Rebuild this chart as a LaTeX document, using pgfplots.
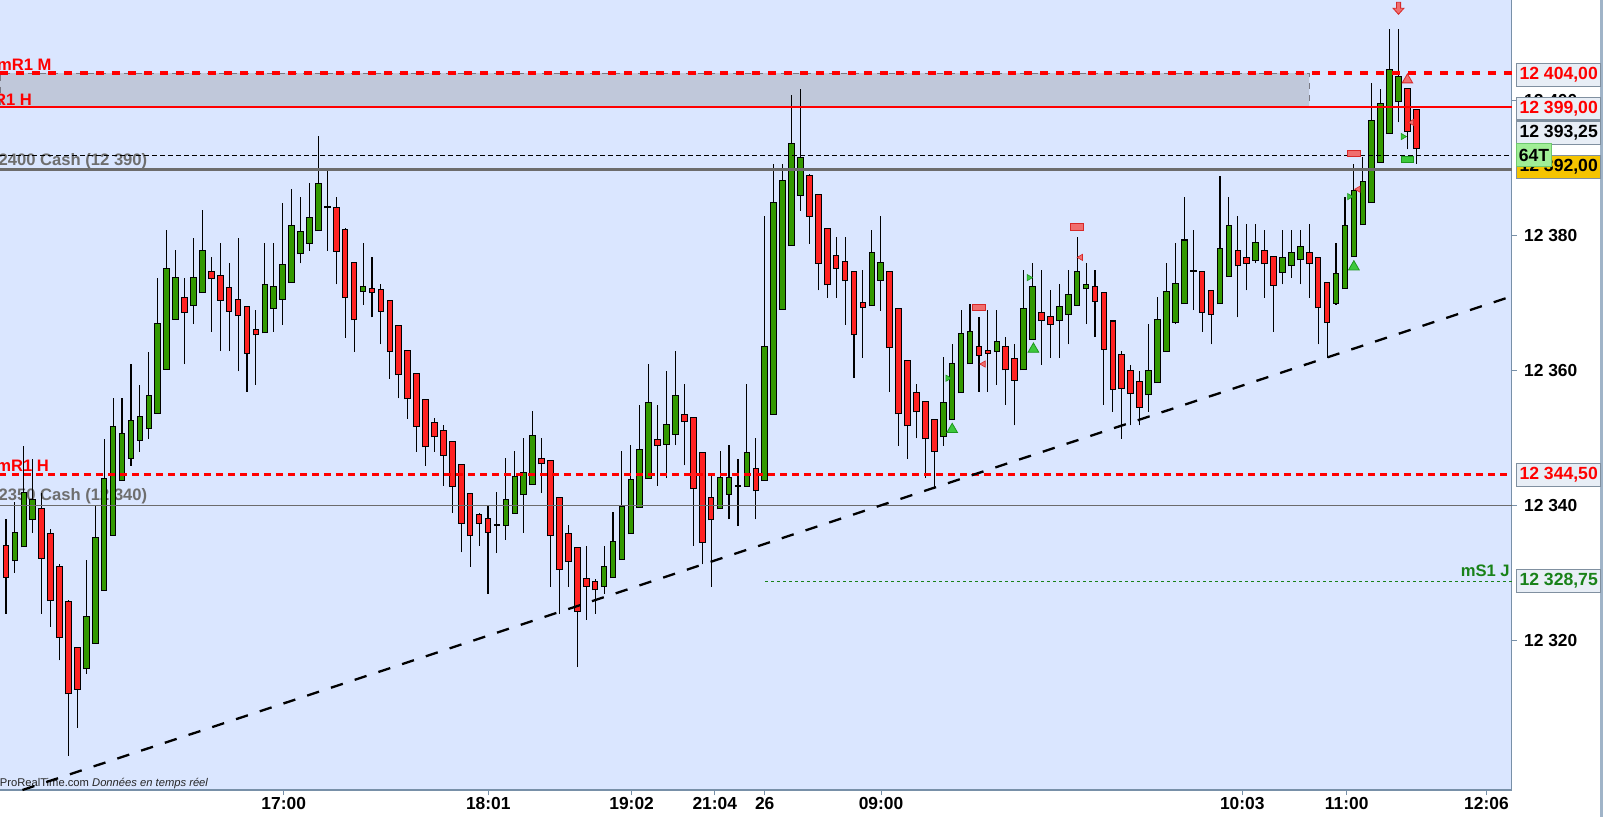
\documentclass[border=0pt]{standalone}
\usepackage{fontspec}
\setmainfont{Liberation Sans}
\usepackage{pgfplots}
\pgfplotsset{compat=1.18}
\usepackage{pgfplotstable}

\definecolor{plotbg}{RGB}{218,230,255}
\definecolor{shade}{RGB}{192,200,218}
\definecolor{shadeline}{RGB}{120,120,130}
\definecolor{cgreen}{RGB}{51,153,0}
\definecolor{cred}{RGB}{255,34,34}
\definecolor{labred}{RGB}{255,0,0}
\definecolor{labgrey}{RGB}{110,110,110}
\definecolor{labgreen}{RGB}{25,130,25}
\definecolor{axisline}{RGB}{120,144,168}
\definecolor{stripc}{RGB}{160,180,200}
\definecolor{boxfill}{RGB}{232,238,246}
\definecolor{boxline}{RGB}{128,144,160}
\definecolor{yellowbox}{RGB}{245,196,0}
\definecolor{box64}{RGB}{160,238,150}
\definecolor{box64line}{RGB}{110,200,110}
\definecolor{mkred}{RGB}{240,110,110}
\definecolor{mkreddark}{RGB}{215,40,40}
\definecolor{mkgreen}{RGB}{60,200,60}
\definecolor{mkgreendark}{RGB}{30,150,30}
\definecolor{greyline}{RGB}{108,108,108}

\newcommand{\lf}{\fontsize{8.3bp}{9bp}\selectfont\bfseries}
\newcommand{\tf}{\fontsize{8.7bp}{10bp}\selectfont\bfseries}

\pgfdeclareplotmark{darrow}{%
  \pgfpathmoveto{\pgfqpoint{-0.35\pgfplotmarksize}{\pgfplotmarksize}}%
  \pgfpathlineto{\pgfqpoint{0.35\pgfplotmarksize}{\pgfplotmarksize}}%
  \pgfpathlineto{\pgfqpoint{0.35\pgfplotmarksize}{0pt}}%
  \pgfpathlineto{\pgfqpoint{0.9\pgfplotmarksize}{0pt}}%
  \pgfpathlineto{\pgfqpoint{0pt}{-\pgfplotmarksize}}%
  \pgfpathlineto{\pgfqpoint{-0.9\pgfplotmarksize}{0pt}}%
  \pgfpathlineto{\pgfqpoint{-0.35\pgfplotmarksize}{0pt}}%
  \pgfpathclose
  \pgfusepathqfillstroke}

\pgfplotstableread{
i o h l c
-1 12328.5 12340.0 12328.0 12339.5
1 12331.8 12340.5 12330.0 12335.9
2 12333.9 12348.8 12333.9 12341.8
3 12337.9 12346.9 12335.9 12340.8
9 12315.8 12331.9 12315.0 12323.4
10 12319.6 12339.8 12319.6 12335.1
11 12327.4 12349.8 12327.4 12343.9
12 12335.6 12355.8 12335.6 12351.6
13 12343.7 12355.8 12343.7 12350.6
14 12347.0 12360.9 12345.8 12352.4
15 12349.7 12357.8 12347.9 12353.1
16 12351.4 12362.7 12349.8 12356.1
17 12353.7 12373.7 12353.7 12366.8
18 12360.2 12380.7 12360.2 12375.0
19 12367.6 12377.8 12367.6 12373.7
21 12369.6 12379.6 12366.8 12373.6
22 12371.5 12383.7 12371.5 12377.7
29 12365.6 12378.8 12365.6 12372.6
30 12369.2 12378.8 12365.7 12372.3
31 12370.6 12384.7 12366.7 12375.5
32 12373.1 12386.8 12373.1 12381.4
33 12377.3 12385.7 12375.8 12380.5
34 12378.9 12387.7 12377.7 12382.5
35 12380.7 12394.7 12380.7 12387.5
36 12384.1 12389.5 12377.7 12384.1
40 12371.7 12378.8 12369.7 12372.3
55 12337.1 12341.9 12332.9 12337.1
56 12337.1 12347.0 12334.9 12340.7
57 12338.9 12348.0 12338.9 12344.1
58 12341.6 12349.9 12335.9 12344.7
59 12343.1 12353.9 12343.1 12350.3
67 12328.0 12334.0 12326.9 12330.8
68 12329.3 12339.0 12329.3 12334.5
69 12332.0 12348.0 12332.0 12339.7
70 12335.8 12348.9 12335.8 12343.7
71 12339.7 12354.9 12339.7 12348.1
72 12344.0 12360.9 12344.0 12355.1
74 12349.1 12359.8 12344.0 12351.8
75 12350.5 12362.8 12348.9 12356.1
80 12339.5 12348.0 12339.5 12344.0
81 12341.7 12348.9 12337.9 12344.0
82 12342.9 12346.9 12336.9 12342.9
83 12342.9 12357.9 12342.9 12347.7
85 12343.7 12382.8 12343.7 12363.4
86 12353.5 12390.6 12353.5 12384.7
87 12369.1 12390.6 12369.1 12388.0
88 12378.5 12400.8 12378.5 12393.5
89 12386.0 12401.6 12383.6 12391.4
97 12369.6 12380.7 12369.6 12377.3
98 12373.4 12382.8 12368.8 12375.8
105 12350.2 12362.0 12348.8 12355.1
106 12352.7 12363.8 12352.7 12360.9
107 12356.7 12368.9 12356.7 12365.3
108 12361.0 12369.8 12361.0 12365.7
111 12362.8 12368.9 12357.8 12364.1
114 12360.1 12374.8 12360.1 12369.0
115 12364.6 12375.8 12364.6 12372.3
118 12367.4 12372.7 12361.8 12369.3
119 12368.3 12374.8 12363.8 12371.1
120 12369.7 12379.7 12369.7 12374.5
121 12372.1 12375.8 12366.8 12372.6
128 12356.4 12366.8 12353.8 12359.8
129 12358.2 12370.9 12358.2 12367.4
130 12362.8 12375.8 12362.8 12371.5
131 12367.1 12378.8 12366.8 12372.7
132 12369.9 12385.7 12369.9 12379.2
133 12374.7 12380.7 12368.9 12374.7
136 12369.9 12388.8 12369.9 12378.0
137 12374.0 12385.7 12374.0 12381.4
140 12376.3 12381.7 12375.8 12378.9
143 12374.6 12380.7 12372.7 12376.6
144 12375.5 12380.7 12373.7 12377.3
145 12376.4 12380.7 12372.7 12378.2
149 12370.0 12378.8 12369.7 12374.3
150 12372.1 12385.7 12372.1 12381.4
151 12376.9 12390.6 12376.9 12386.5
152 12381.6 12391.6 12381.6 12387.9
153 12384.9 12402.6 12384.9 12396.9
154 12390.8 12401.6 12390.8 12399.4
155 12395.1 12410.6 12395.1 12404.4
156 12399.8 12410.6 12396.7 12403.4
}\greenT

\pgfplotstableread{
i o h l c
0 12334.0 12337.9 12323.9 12329.4
4 12339.4 12341.8 12323.9 12332.2
5 12335.7 12336.5 12322.0 12325.9
6 12330.8 12331.3 12317.0 12320.5
7 12325.6 12326.0 12302.9 12312.1
8 12318.8 12319.0 12307.0 12312.8
20 12370.7 12373.7 12360.9 12368.6
23 12374.6 12376.7 12365.7 12373.6
24 12374.0 12378.9 12362.8 12370.4
25 12372.2 12375.9 12362.8 12368.8
26 12370.4 12379.6 12359.8 12368.2
27 12369.4 12369.5 12356.8 12362.6
28 12366.0 12368.9 12357.8 12365.3
37 12384.0 12385.7 12372.7 12377.7
38 12380.8 12381.0 12364.8 12370.8
39 12375.8 12376.0 12362.7 12367.5
41 12372.0 12376.8 12367.8 12371.5
42 12371.8 12372.8 12363.8 12368.8
43 12370.3 12370.3 12358.7 12362.8
44 12366.5 12366.5 12355.8 12359.4
45 12362.9 12362.9 12352.8 12355.8
46 12359.4 12359.4 12347.9 12351.7
47 12355.5 12355.5 12345.8 12348.7
48 12352.1 12352.9 12347.9 12350.2
49 12351.0 12351.8 12342.9 12347.4
50 12349.3 12349.3 12338.9 12342.9
51 12346.0 12346.0 12333.0 12337.4
52 12341.7 12341.7 12330.9 12335.5
53 12338.6 12338.9 12334.0 12337.4
54 12338.0 12339.8 12326.9 12336.0
60 12346.8 12349.9 12341.8 12346.2
61 12346.5 12346.5 12327.9 12335.5
62 12341.0 12341.0 12323.9 12330.5
63 12335.7 12337.0 12327.9 12331.7
64 12333.7 12333.7 12316.0 12324.3
65 12329.0 12334.0 12323.0 12328.0
66 12328.6 12329.0 12323.9 12327.5
73 12349.6 12354.9 12342.9 12348.9
76 12353.3 12357.9 12345.9 12352.4
77 12352.9 12353.0 12334.0 12342.5
78 12347.7 12347.7 12331.2 12334.5
79 12341.0 12344.8 12327.9 12337.9
84 12345.3 12349.9 12337.9 12342.2
90 12388.7 12389.0 12378.7 12382.9
91 12385.9 12386.0 12371.8 12375.9
92 12380.9 12381.0 12370.7 12372.7
93 12376.9 12379.7 12370.7 12375.1
94 12376.0 12379.7 12366.7 12373.3
95 12374.6 12374.6 12358.8 12365.3
96 12369.9 12374.8 12361.8 12369.3
99 12374.6 12374.6 12356.8 12363.4
100 12369.0 12369.0 12348.8 12353.6
101 12361.3 12361.3 12346.9 12351.8
102 12356.6 12357.9 12349.9 12353.9
103 12355.2 12355.2 12344.0 12349.9
104 12352.6 12352.6 12342.5 12348.0
109 12363.4 12367.9 12356.8 12362.3
110 12362.9 12368.9 12356.8 12362.6
112 12363.4 12364.9 12354.9 12360.1
113 12361.7 12363.8 12351.8 12358.6
116 12368.4 12374.8 12360.8 12367.4
117 12367.8 12371.8 12361.8 12366.8
122 12372.3 12374.8 12364.9 12370.3
123 12371.4 12371.4 12354.9 12363.1
124 12367.2 12367.2 12353.8 12357.2
125 12362.2 12362.8 12349.8 12357.3
126 12359.8 12360.8 12351.8 12356.6
127 12358.2 12359.8 12351.8 12354.6
134 12374.6 12374.6 12365.7 12368.6
135 12371.7 12371.7 12363.8 12368.3
138 12377.7 12382.8 12367.8 12375.5
139 12376.6 12381.7 12371.8 12375.9
141 12377.6 12380.7 12370.7 12375.8
142 12376.7 12376.7 12365.7 12372.6
146 12377.3 12381.7 12370.7 12375.8
147 12376.6 12376.6 12363.8 12369.3
148 12372.9 12372.9 12361.8 12367.1
157 12401.6 12401.6 12392.7 12395.4
158 12398.5 12398.5 12390.6 12392.9
}\redT

\tikzset{rbox/.style={anchor=west, draw=boxline, line width=0.6bp, fill=boxfill,
  minimum width=42bp, minimum height=11.4bp, inner sep=0pt,
  font=\fontsize{8.8bp}{10bp}\selectfont\bfseries}}

\begin{document}
\begin{tikzpicture}
\useasboundingbox (0,0) rectangle (801.5bp,-408.5bp);
\fill[white] (0,0) rectangle (801.5bp,-408.5bp);
\begin{axis}[
  at={(0,0)}, anchor=north west,
  scale only axis, width=755.75bp, height=395bp,
  xmin=-0.672, xmax=168.66, ymin=12297.79, ymax=12414.83,
  axis x line*=bottom, axis y line*=right,
  axis line style={draw=axisline, line width=0.6bp},
  axis background/.style={fill=plotbg},
  xtick={31.11,54.03,70.09,79.4,85.0,98.03,138.5,150.2,165.85},
  xticklabels={17:00,18:01,19:02,21:04,26,09:00,10:03,11:00,12:06},
  ytick={12320,12340,12360,12380,12400},
  yticklabels={12 320,12 340,12 360,12 380,12 400},
  tick align=outside, major tick length=2.5bp,
  tick style={draw=axisline, line width=0.5bp},
  tick label style={font=\tf, inner sep=0pt},
  xticklabel style={anchor=north, yshift=-1.2bp},
  yticklabel style={anchor=west, xshift=3.6bp},
  clip=false,
]
% shaded zone
\addplot[draw=shadeline, dashed, line width=0.4bp, fill=shade]
  coordinates {(-0.672,12399) (146.0,12399) (146.0,12404) (-0.672,12404) (-0.672,12399)};

% left labels (behind candles)
\node[anchor=base east, inner sep=0pt, text=labred, font=\lf] at (axis cs:5.15,12404.36) {mR1 M};
\node[anchor=base east, inner sep=0pt, text=labred, font=\lf] at (axis cs:2.95,12399.27) {R1 H};
\node[anchor=base east, inner sep=0pt, text=labgrey, font=\lf] at (axis cs:15.87,12390.38) {12400 Cash (12 390)};
\node[anchor=base east, inner sep=0pt, text=labred, font=\lf] at (axis cs:4.85,12344.98) {mR1 H};
\node[anchor=base east, inner sep=0pt, text=labgrey, font=\lf] at (axis cs:15.87,12340.62) {12350 Cash (12 340)};
\node[anchor=base east, inner sep=0pt, text=black!85, font=\fontsize{5.6bp}{6bp}\selectfont] at (axis cs:22.7,12298.3) {© ProRealTime.com \textit{Données en temps réel}};
\node[anchor=base east, inner sep=0pt, text=labgreen, font=\lf] at (axis cs:168.5,12329.4) {mS1 J};

% wicks
\addplot[black, line width=0.55bp, -, quiver={u=0, v=\thisrow{h}-\thisrow{l}}] table[x=i, y=l] {\greenT};
\addplot[black, line width=0.55bp, -, quiver={u=0, v=\thisrow{h}-\thisrow{l}}] table[x=i, y=l] {\redT};
% body outlines
\addplot[black, line width=3.3bp, -, quiver={u=0, v=\thisrow{c}-\thisrow{o}+0.3}] table[x=i, y expr=\thisrow{o}-0.15] {\greenT};
\addplot[black, line width=3.3bp, -, quiver={u=0, v=\thisrow{o}-\thisrow{c}+0.3}] table[x=i, y expr=\thisrow{c}-0.15] {\redT};
% bodies
\addplot[cgreen, line width=2.3bp, -, quiver={u=0, v=\thisrow{c}-\thisrow{o}}] table[x=i, y=o] {\greenT};
\addplot[cred, line width=2.3bp, -, quiver={u=0, v=\thisrow{o}-\thisrow{c}}] table[x=i, y=c] {\redT};

% horizontal levels
\addplot[labred, line width=2bp, dash pattern=on 4bp off 4bp] coordinates {(-0.672,12404) (168.66,12404)};
\addplot[labred, line width=1.35bp] coordinates {(-0.672,12399) (168.66,12399)};
\addplot[black, line width=0.65bp, dash pattern=on 2.3bp off 1.7bp] coordinates {(-0.672,12391.8) (168.66,12391.8)};
\addplot[greyline, line width=1.35bp] coordinates {(-0.672,12389.75) (168.66,12389.75)};
\addplot[labred, line width=1.35bp, dash pattern=on 3.25bp off 2.75bp] coordinates {(-0.672,12344.5) (168.66,12344.5)};
\addplot[greyline, line width=0.55bp] coordinates {(-0.672,12340) (168.66,12340)};
\addplot[labgreen, line width=0.5bp, dash pattern=on 1.5bp off 1.5bp] coordinates {(85.07,12328.75) (168.66,12328.75)};
% trend line
\addplot[black, line width=1.15bp, dash pattern=on 6.25bp off 6.25bp] coordinates {(1.84,12297.79) (168.66,12370.93)};

% signal markers
\addplot[only marks, mark=square*, mark size=1.6bp, mark options={xscale=2, fill=mkred, draw=mkreddark, line width=0.4bp}]
  coordinates {(109.0,12369.3) (120.0,12381.2) (151.0,12392.1)};
\addplot[only marks, mark=square*, mark size=1.65bp, mark options={xscale=1.9, fill=mkgreen, draw=mkgreendark, line width=0.4bp}]
  coordinates {(157.0,12391.2)};
\addplot[only marks, mark=triangle*, mark size=3.1bp, mark options={fill=mkgreen, draw=mkgreendark, line width=0.4bp}]
  coordinates {(106.0,12351.2) (115.1,12363.1) (151.0,12375.3)};
\addplot[only marks, mark=triangle*, mark size=3.0bp, mark options={fill=mkred, draw=mkreddark, line width=0.4bp}]
  coordinates {(157.0,12403.0)};
\addplot[only marks, mark=triangle*, mark size=1.8bp, mark options={rotate=-90, fill=mkgreen, draw=mkgreendark, line width=0.3bp}]
  coordinates {(105.5,12358.8) (114.6,12373.7) (150.5,12385.7) (156.5,12394.6)};
\addplot[only marks, mark=triangle*, mark size=1.8bp, mark options={rotate=90, fill=mkred, draw=mkreddark, line width=0.3bp}]
  coordinates {(109.5,12360.9) (120.4,12376.7) (151.5,12386.8) (157.5,12396.7)};
\addplot[only marks, mark=darrow, mark size=3bp, mark options={fill=mkred, draw=mkreddark, line width=0.4bp}]
  coordinates {(156.0,12413.6)};

\coordinate (L404) at (axis cs:169.17,12403.7);
\coordinate (L399) at (axis cs:169.17,12398.73);
\coordinate (L393) at (axis cs:169.17,12395.16);
\coordinate (L392) at (axis cs:169.17,12390.09);
\coordinate (L64) at (axis cs:169.17,12391.87);
\coordinate (L344) at (axis cs:169.17,12344.46);
\coordinate (L328) at (axis cs:169.17,12328.78);
\end{axis}
\fill[stripc] (799.75bp,0) rectangle (801.5bp,-408.5bp);
\node[rbox, text=labred] at (L404) {12 404,00};
\node[rbox, text=labred] at (L399) {12 399,00};
\node[rbox, text=black] at (L393) {12 393,25};
\node[rbox, text=black, fill=yellowbox] at (L392) {12 392,00};
\node[rbox, text=black, fill=box64, draw=box64line, minimum width=17.3bp] at (L64) {64T};
\node[rbox, text=labred] at (L344) {12 344,50};
\node[rbox, text=labgreen] at (L328) {12 328,75};
\end{tikzpicture}
\end{document}
